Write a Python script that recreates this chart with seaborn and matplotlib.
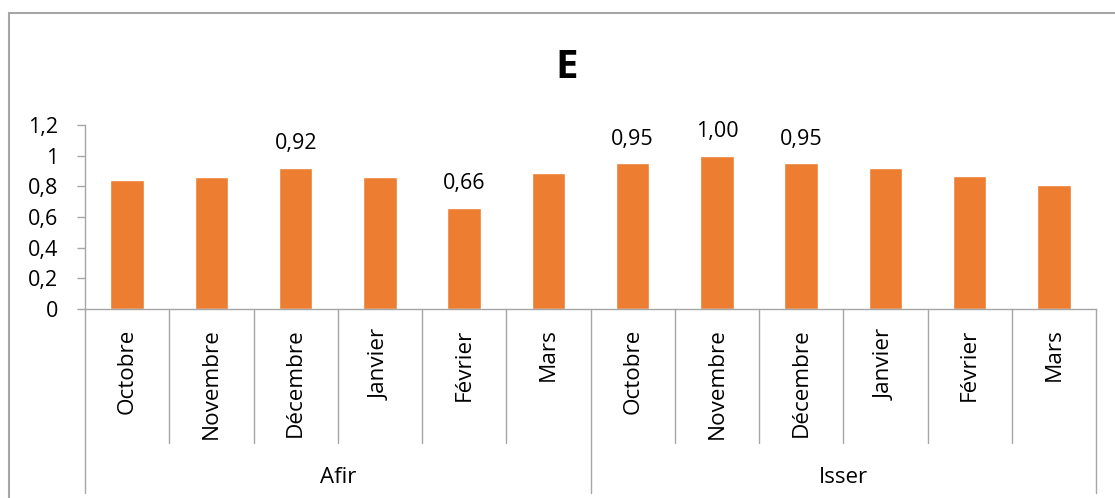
import matplotlib
matplotlib.use("Agg")
import matplotlib.pyplot as plt
import matplotlib.transforms as mtransforms
from matplotlib.lines import Line2D
import seaborn as sns
import pandas as pd

# Données
sites = ["Afir", "Isser"]
mois = ["Octobre", "Novembre", "Décembre", "Janvier", "Février", "Mars"]
valeurs_afir = [0.84, 0.86, 0.92, 0.86, 0.66, 0.89]
valeurs_isser = [0.95, 1.00, 0.95, 0.92, 0.865, 0.81]
# étiquettes affichées : (site, mois)
etiquettes = [("Afir", "Décembre"), ("Afir", "Février"),
              ("Isser", "Octobre"), ("Isser", "Novembre"), ("Isser", "Décembre")]
titre = "E"

lignes = []
for site, vals in zip(sites, [valeurs_afir, valeurs_isser]):
    for m, v in zip(mois, vals):
        lignes.append({"site": site, "mois": m, "cle": f"{site}|{m}", "valeur": v})
df = pd.DataFrame(lignes)
ordre = list(df["cle"])

sns.set_style("white")
plt.rcParams["font.family"] = ["Open Sans", "DejaVu Sans"]
plt.rcParams["text.color"] = "black"
plt.rcParams["xtick.color"] = "black"
plt.rcParams["ytick.color"] = "black"

W, H, DPI = 1115, 498, 100
fig = plt.figure(figsize=(W / DPI, H / DPI), dpi=DPI)
ax = fig.add_axes([85 / W, (H - 309) / H, (1096 - 85) / W, (309 - 125) / H])

orange = "#ED7D31"
gris = "#A6A6A6"

sns.barplot(data=df, x="cle", y="valeur", order=ordre, color=orange,
            saturation=1, width=0.4, ax=ax, errorbar=None)

ax.set_ylim(0, 1.2)
ax.set_xlim(-0.5, len(ordre) - 0.5)
ax.set_xlabel("")
ax.set_ylabel("")

yt = [0, 0.2, 0.4, 0.6, 0.8, 1.0, 1.2]
ax.set_yticks(yt)
ax.set_yticklabels([("%g" % t).replace(".", ",") for t in yt], fontsize=15.5)
ax.tick_params(axis="y", length=6, width=1, color=gris, labelcolor="black",
               pad=13.5, left=True)

ax.set_xticks(range(len(ordre)))
ax.set_xticklabels(list(df["mois"]), rotation=90, fontsize=16.2)
ax.tick_params(axis="x", length=0, pad=14, labelcolor="black")

for s in ["top", "right"]:
    ax.spines[s].set_visible(False)
for s in ["left", "bottom"]:
    ax.spines[s].set_color(gris)
    ax.spines[s].set_linewidth(1)

# Séparateurs de catégories et de groupes sous l'axe
trans = mtransforms.blended_transform_factory(ax.transData, ax.transAxes)
ax_h_px = 309 - 125
n = len(ordre)
for k in range(n + 1):
    x = k - 0.5
    bas = -(493 - 309) / ax_h_px if k % len(mois) == 0 else -(443 - 309) / ax_h_px
    ax.add_line(Line2D([x, x], [0, bas], transform=trans, color=gris,
                       lw=1, clip_on=False))

for g, site in enumerate(sites):
    centre = g * len(mois) + (len(mois) - 1) / 2
    ax.text(centre, -(477 - 309) / ax_h_px, site, transform=trans,
            ha="center", va="center", fontsize=16, color="black")

# Étiquettes de valeurs
for site, m in etiquettes:
    ligne = df[(df["site"] == site) & (df["mois"] == m)].iloc[0]
    i = ordre.index(ligne["cle"])
    ax.annotate(("%.2f" % ligne["valeur"]).replace(".", ","),
                xy=(i, ligne["valeur"]), xytext=(0, 13.5),
                textcoords="offset points", ha="center", va="baseline",
                fontsize=15.5, color="black")

# Titre
fig.text(567 / W, (H - 78) / H, titre, ha="center", va="baseline",
         fontsize=29, fontweight="bold", color="black")

# Cadre du graphique
fig.add_artist(Line2D([8.5 / W, 8.5 / W], [0, (H - 13) / H],
                      transform=fig.transFigure, color=gris, lw=1.5))
fig.add_artist(Line2D([8.5 / W, 1], [(H - 13) / H, (H - 13) / H],
                      transform=fig.transFigure, color=gris, lw=1.5))

fig.savefig("out.png", dpi=DPI, facecolor="white")
